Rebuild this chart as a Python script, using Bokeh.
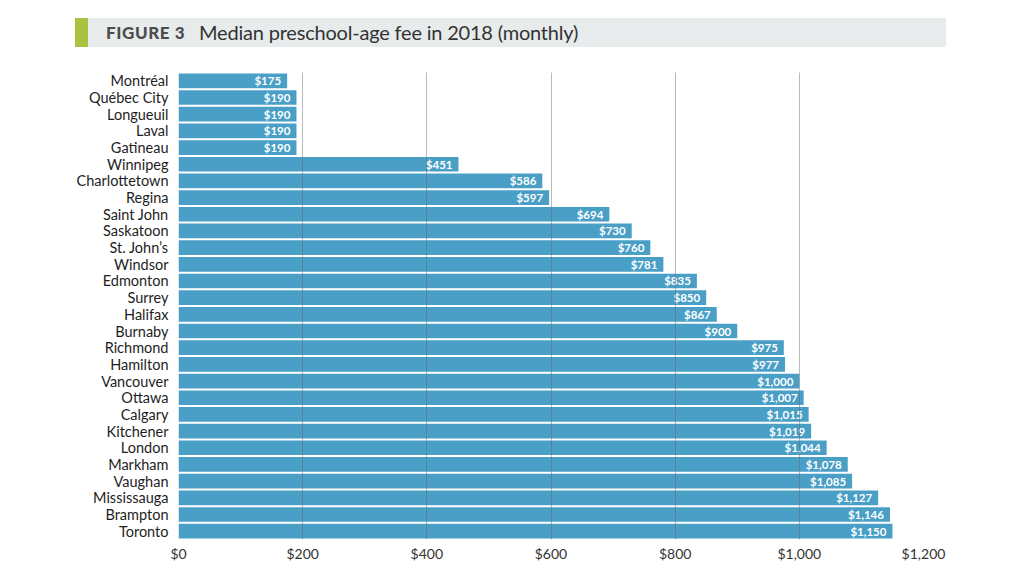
from bokeh.plotting import figure
from bokeh.models import Range1d, FixedTicker, ColumnDataSource, LabelSet, NumeralTickFormatter, Div
from bokeh.layouts import column
from bokeh.core.properties import value
from bokeh.embed import file_html
from bokeh.resources import INLINE

cities = ["Montréal", "Québec City", "Longueuil", "Laval", "Gatineau", "Winnipeg",
          "Charlottetown", "Regina", "Saint John", "Saskatoon", "St. John’s", "Windsor",
          "Edmonton", "Surrey", "Halifax", "Burnaby", "Richmond", "Hamilton", "Vancouver",
          "Ottawa", "Calgary", "Kitchener", "London", "Markham", "Vaughan", "Mississauga",
          "Brampton", "Toronto"]
fees = [175, 190, 190, 190, 190, 451, 586, 597, 694, 730, 760, 781, 835, 850, 867, 900,
        975, 977, 1000, 1007, 1015, 1019, 1044, 1078, 1085, 1127, 1146, 1150]
x_ticks = [0, 200, 400, 600, 800, 1000, 1200]
title_tag = "FIGURE 3"
title_text = "Median preschool-age fee in 2018 (monthly)"

FONT = "Lato"
BAR = "#4a9fc7"

idx = list(range(len(cities)))
src = ColumnDataSource(dict(y=idx, fee=fees, city=cities,
                            lab=["${:,}".format(v) for v in fees]))

header = Div(width=1008, height=64, margin=(0, 0, 0, 0), text=f"""
<div style="position:relative;width:1008px;height:64px;font-family:Lato;">
  <div style="position:absolute;left:75px;top:18px;width:871px;height:29px;background:#e7ebeb;"></div>
  <div style="position:absolute;left:75px;top:18px;width:13px;height:29px;background:#a9c23f;"></div>
  <div style="position:absolute;left:106px;top:18px;height:29px;line-height:30px;font-size:17px;
       font-weight:900;letter-spacing:0.6px;color:#4d4d4d;white-space:nowrap;">{title_tag}</div>
  <div style="position:absolute;left:199px;top:18px;height:29px;line-height:29px;font-size:20px;
       letter-spacing:-0.2px;color:#333333;white-space:nowrap;">{title_text}</div>
</div>""")

p = figure(width=1008, height=502, output_backend="svg", toolbar_location=None,
           x_range=Range1d(0, 1200), y_range=Range1d(len(cities) - 0.5, -0.5),
           min_border_left=178, min_border_right=85, min_border_top=8, min_border_bottom=27,
           margin=(0, 0, 0, 0))
p.outline_line_color = None
p.background_fill_color = "white"
p.border_fill_color = "white"

p.hbar(y="y", left=0, right="fee", height=0.88, source=src, color=BAR, line_color=None)

labels = LabelSet(x="fee", y="y", text="lab", source=src, x_offset=-6, y_offset=0,
                  text_align="right", text_baseline="middle", text_color="white",
                  text_font=value(FONT), text_font_size="11.5px", text_font_style="bold")
p.add_layout(labels)

# axes
p.xaxis.ticker = FixedTicker(ticks=x_ticks)
p.xaxis.formatter = NumeralTickFormatter(format="$0,0")
p.xaxis.axis_line_color = None
p.xaxis.major_tick_line_color = None
p.xaxis.minor_tick_line_color = None
p.xaxis.major_tick_out = 0
p.xaxis.major_tick_in = 0
p.xaxis.major_label_text_font = FONT
p.xaxis.major_label_text_font_size = "14px"
p.xaxis.major_label_text_color = "#333333"
p.xaxis.major_label_standoff = 5

p.yaxis.ticker = FixedTicker(ticks=idx)
p.yaxis.major_label_overrides = {i: c for i, c in zip(idx, cities)}
p.yaxis.axis_line_color = None
p.yaxis.major_tick_line_color = None
p.yaxis.minor_tick_line_color = None
p.yaxis.major_tick_out = 0
p.yaxis.major_tick_in = 0
p.yaxis.major_label_text_font = FONT
p.yaxis.major_label_text_font_size = "14.5px"
p.yaxis.major_label_text_color = "#1e1e1e"
p.yaxis.major_label_standoff = 10

p.ygrid.grid_line_color = None
p.xgrid.ticker = FixedTicker(ticks=x_ticks[1:])
p.xgrid.grid_line_color = "#666666"
p.xgrid.grid_line_alpha = 0.45
p.xgrid.grid_line_width = 1
p.xgrid.level = "overlay"

layout = column(header, p, spacing=0)
open("out.html", "w").write(file_html(layout, INLINE))
